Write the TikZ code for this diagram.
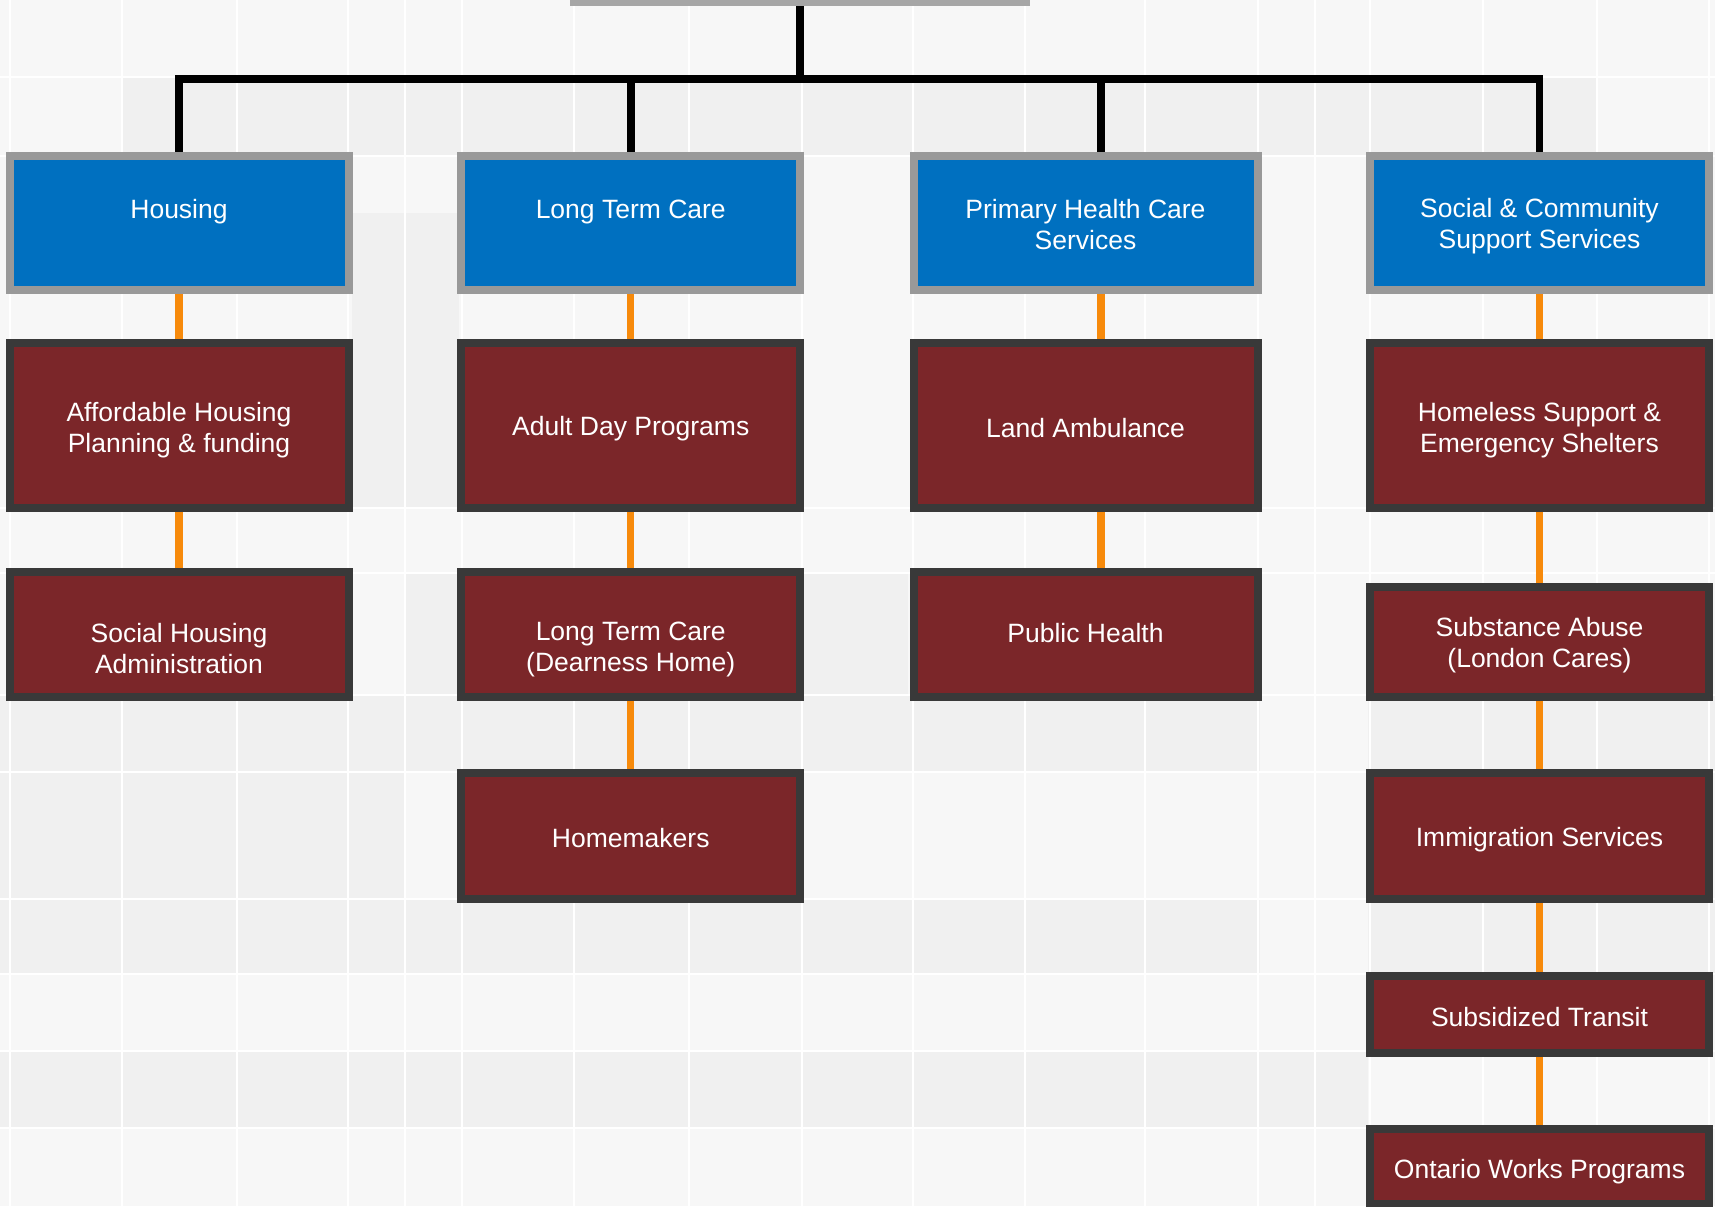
\documentclass[tikz,border=0pt]{standalone}
\usepackage{fontspec}
\setmainfont{Liberation Sans}
\definecolor{hblue}{HTML}{0070C0}
\definecolor{hgray}{HTML}{999999}
\definecolor{rgray}{HTML}{A6A6A6}
\definecolor{dred}{HTML}{7B2629}
\definecolor{bdark}{HTML}{393939}
\definecolor{feedor}{HTML}{F78A0B}
\definecolor{bglight}{HTML}{F7F7F7}
\definecolor{bgdark}{HTML}{F0F0F0}
\pgfdeclarelayer{bgl}
\pgfdeclarelayer{conn}
\pgfsetlayers{bgl,conn,main}
\tikzset{
  txt/.style={text=white, align=center, inner sep=0pt, font=\fontsize{13.25}{15.5}\selectfont},
  head/.style={draw=hgray, fill=hblue, line width=4pt, inner sep=0pt,
               minimum width=169.5pt, minimum height=67pt},
  unit/.style={draw=bdark, fill=dred, line width=4pt, inner sep=0pt,
               minimum width=169.5pt},
  bus/.style={line width=3.8pt, draw=black},
  feed/.style={line width=3.6pt, draw=feedor},
  bgline/.style={draw=white, line width=1pt},
}
\begin{document}
\begin{tikzpicture}[x=0.5pt,y=-0.5pt]
\useasboundingbox (0,0) rectangle (1715,1206);
% background tiles
\begin{pgfonlayer}{bgl}
  \fill[bglight] (0,0) rectangle (1715,1206);
  \fill[bgdark] (122,77) rectangle (1597,156);
  \fill[bgdark] (352,213) rectangle (459,508);
  \fill[bgdark] (405,573) rectangle (459,695);
  \fill[bgdark] (804,573) rectangle (908,695);
  \fill[bgdark] (0,695) rectangle (1260,772);
  \fill[bgdark] (1368,695) rectangle (1715,772);
  \fill[bgdark] (0,772) rectangle (405,899);
  \fill[bgdark] (0,899) rectangle (1260,974);
  \fill[bgdark] (1368,899) rectangle (1715,974);
  \fill[bgdark] (0,1051) rectangle (1368,1128);
  \foreach \x in {10,122,237,348,405,462,574,689,802,913,1025,1145,1258,1315,1370,1483,1597,1709}
    \draw[bgline] (\x,0) -- (\x,1206);
  \foreach \y in {77,156,508,573,695,772,899,974,1051,1128}
    \draw[bgline] (0,\y) -- (1715,\y);
\end{pgfonlayer}

% root (only its lower border is visible)
\node[head, draw=rgray, minimum width=226pt, minimum height=50pt] (root) at (800,-48) {};

% heads
\node[head, label={[txt,yshift=5.6pt]center:Housing}] (housing) at (179,223) {};
\node[head, label={[txt,yshift=5.6pt]center:Long Term Care}] (ltc) at (630.75,223) {};
\node[head, minimum width=172pt, label={[txt,yshift=-0.8pt]center:{Primary Health Care\\Services}}] (primary) at (1085.5,223) {};
\node[head, label={[txt,yshift=-1.8pt]center:{Social \& Community\\Support Services}}] (social) at (1539.5,223) {};

% row 2
\node[unit, minimum height=82.5pt, label={[txt,yshift=-2.4pt]center:{Affordable Housing\\Planning \& funding}}] (afford) at (179,425.5) {};
\node[unit, minimum height=82.5pt, label={[txt,yshift=-1.6pt]center:Adult Day Programs}] (adult) at (630.75,425.5) {};
\node[unit, minimum height=82.5pt, minimum width=172pt, label={[txt,yshift=-1.2pt]center:Land Ambulance}] (land) at (1085.5,425.5) {};
\node[unit, minimum height=82.5pt, label={[txt,yshift=-2.4pt]center:{Homeless Support \&\\Emergency Shelters}}] (homeless) at (1539.5,425.5) {};

% row 3
\node[unit, minimum height=62.5pt, label={[txt,yshift=-6.9pt]center:{Social Housing\\Administration}}] (socialh) at (179,634.5) {};
\node[unit, minimum height=62.5pt, label={[txt,yshift=-7.4pt]center:{Long Term Care\\(Dearness Home)}}] (dearness) at (630.75,634.5) {};
\node[unit, minimum height=62.5pt, minimum width=172pt, label={[txt,yshift=0.6pt]center:Public Health}] (public) at (1085.5,634.5) {};
\node[unit, minimum height=55pt, label={[txt,yshift=-1.6pt]center:{Substance Abuse\\(London Cares)}}] (substance) at (1539.5,642) {};

% lower rows
\node[unit, minimum height=63pt, label={[txt,yshift=-1.2pt]center:Homemakers}] (homemakers) at (630.75,836) {};
\node[unit, minimum height=63pt, label={[txt,yshift=-2pt]center:Immigration Services}] (immigration) at (1539.5,836) {};
\node[unit, minimum height=38.5pt, label={[txt,yshift=-1.2pt]center:Subsidized Transit}] (transit) at (1539.5,1014.5) {};
\node[unit, minimum height=37.5pt, label={[txt,yshift=-2.4pt]center:Ontario Works Programs}] (ontario) at (1539.5,1166.5) {};

\coordinate (bus) at (800,79);
\coordinate (pcol) at ([xshift=7.75pt]primary.center);

\begin{pgfonlayer}{conn}
  \draw[bus] (root) -- (bus);
  \draw[bus] (housing) |- (bus) -| (social);
  \draw[bus] (ltc) -- (ltc |- bus);
  \draw[bus] (pcol) -- (pcol |- bus);
  \draw[feed] (housing) -- (afford) -- (socialh);
  \draw[feed] (ltc) -- (adult) -- (dearness) -- (homemakers);
  \draw[feed] (pcol) -- (pcol |- public);
  \draw[feed] (social) -- (homeless) -- (substance) -- (immigration) -- (transit) -- (ontario);
\end{pgfonlayer}
\end{tikzpicture}
\end{document}
